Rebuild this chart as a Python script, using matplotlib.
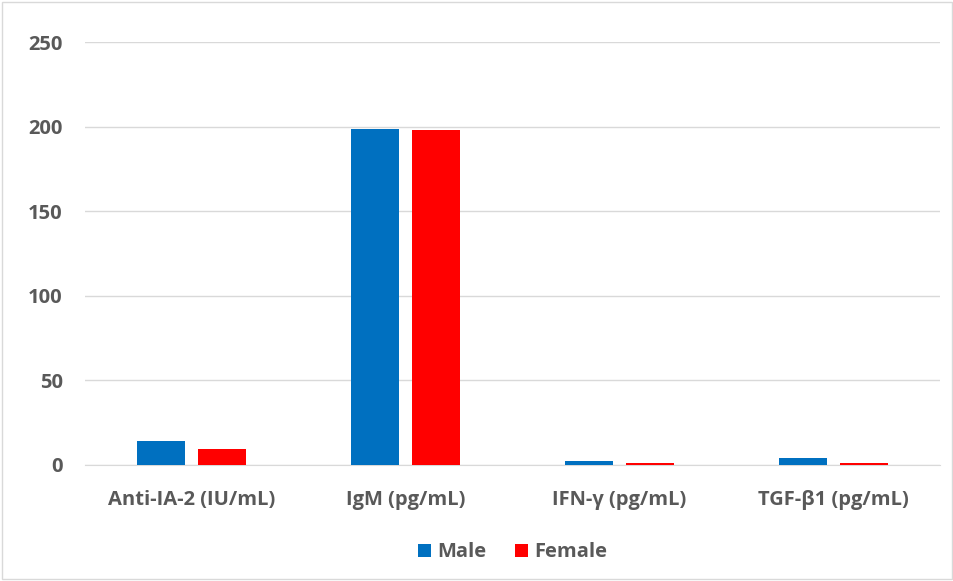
import matplotlib.pyplot as plt
import numpy as np

categories = ["Anti-IA-2 (IU/mL)", "IgM (pg/mL)", "IFN-\u03b3 (pg/mL)", "TGF-\u03b21 (pg/mL)"]
male = [14.3, 198.3, 2.6, 4.2]
female = [9.5, 197.8, 0.9, 1.1]

plt.rcParams['font.family'] = ['Open Sans', 'DejaVu Sans']

fig = plt.figure(figsize=(9.54, 5.81), dpi=100)
ax = fig.add_axes([85 / 954, 1 - 465 / 581, 855 / 954, 423 / 581])

x = np.arange(len(categories))
w = 0.225
ax.bar(x - 0.143, male, w, color='#0070c0', label='Male', zorder=3)
ax.bar(x + 0.143, female, w, color='#ff0000', label='Female', zorder=3)

ax.set_xlim(-0.5, 3.5)
ax.set_ylim(0, 250)
ax.set_yticks(range(0, 251, 50))
ax.set_xticks(x)
ax.set_xticklabels(categories)
ax.grid(axis='y', color='#d9d9d9', linewidth=1, zorder=0)
for s in ['top', 'right', 'left']:
    ax.spines[s].set_visible(False)
ax.spines['bottom'].set_color('#d9d9d9')
ax.tick_params(length=0, colors='#595959', labelsize=14.5)
ax.tick_params(axis='x', pad=18)
ax.tick_params(axis='y', pad=16)
for t in ax.get_xticklabels() + ax.get_yticklabels():
    t.set_fontweight('bold')

leg = ax.legend(loc='upper center', bbox_to_anchor=(0.5, -0.14), ncol=2, frameon=False,
                handlelength=0.65, handleheight=0.65, handletextpad=0.3, columnspacing=1.4,
                prop={'weight': 'bold', 'size': 14.5})
for t in leg.get_texts():
    t.set_color('#595959')

fig.patches.append(plt.Rectangle((0.002, 0.003), 0.996, 0.994, transform=fig.transFigure,
                                 fill=False, edgecolor='#d9d9d9', linewidth=1))

plt.savefig('out.png', dpi=100)
